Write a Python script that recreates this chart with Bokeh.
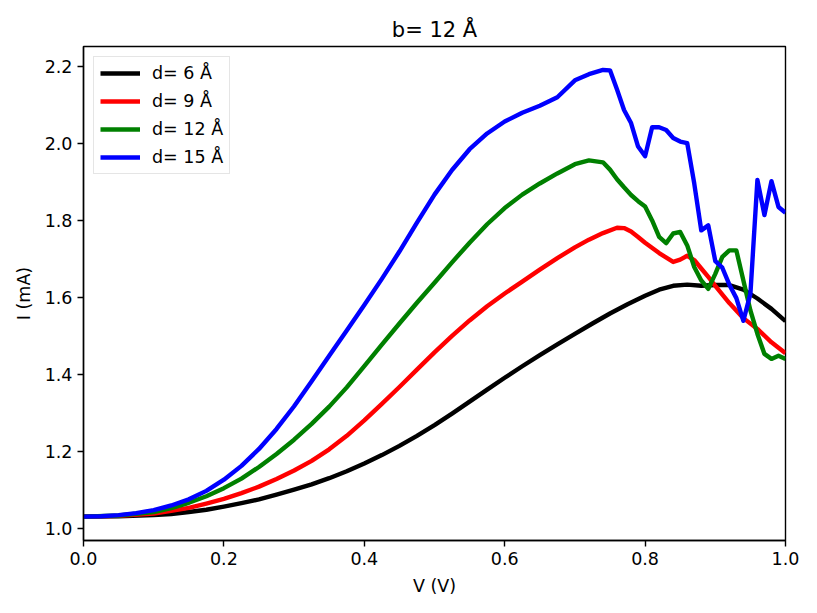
from bokeh.plotting import figure
from bokeh.models import Range1d, FixedTicker, Legend, LegendItem
from bokeh.embed import file_html
from bokeh.resources import INLINE

title_text = "b= 12 Å"
x_label = "V (V)"
y_label = "I (mA)"
x_ticks = [0.0, 0.2, 0.4, 0.6, 0.8, 1.0]
y_ticks = [1.0, 1.2, 1.4, 1.6, 1.8, 2.0, 2.2]

labels = ["d= 6 Å", "d= 9 Å", "d= 12 Å", "d= 15 Å"]
colors = ["black", "red", "green", "blue"]

v_d6 = [0.0, 0.05, 0.10, 0.125, 0.15, 0.175, 0.20, 0.225, 0.25, 0.275, 0.30, 0.325, 0.35,
        0.375, 0.40, 0.425, 0.45, 0.475, 0.50, 0.525, 0.55, 0.575, 0.60, 0.625, 0.65, 0.675,
        0.70, 0.725, 0.75, 0.775, 0.80, 0.82, 0.84, 0.86, 0.88, 0.90, 0.92, 0.94, 0.96,
        0.98, 1.0]
i_d6 = [1.030, 1.031, 1.034, 1.037, 1.042, 1.048, 1.056, 1.065, 1.075, 1.087, 1.100, 1.114,
        1.130, 1.148, 1.168, 1.190, 1.214, 1.240, 1.268, 1.298, 1.329, 1.360, 1.391, 1.421,
        1.450, 1.478, 1.505, 1.532, 1.558, 1.582, 1.604, 1.620, 1.630, 1.633, 1.630, 1.632,
        1.632, 1.620, 1.597, 1.570, 1.538]

v_d9 = [0.0, 0.05, 0.10, 0.125, 0.15, 0.175, 0.20, 0.225, 0.25, 0.275, 0.30, 0.325, 0.35,
        0.375, 0.40, 0.425, 0.45, 0.475, 0.50, 0.525, 0.55, 0.575, 0.60, 0.625, 0.65, 0.675,
        0.70, 0.72, 0.74, 0.76, 0.77, 0.78, 0.79, 0.80, 0.82, 0.84, 0.85, 0.86, 0.87, 0.88,
        0.89, 0.90, 0.92, 0.94, 0.96, 0.98, 1.0]
i_d9 = [1.030, 1.032, 1.038, 1.045, 1.053, 1.064, 1.076, 1.091, 1.108, 1.128, 1.150, 1.175,
        1.205, 1.240, 1.280, 1.323, 1.367, 1.412, 1.457, 1.500, 1.540, 1.577, 1.610, 1.641,
        1.672, 1.702, 1.730, 1.750, 1.767, 1.781, 1.780, 1.771, 1.757, 1.742, 1.715, 1.692,
        1.698, 1.708, 1.697, 1.675, 1.653, 1.630, 1.585, 1.546, 1.518, 1.483, 1.455]

v_d12 = [0.0, 0.05, 0.10, 0.125, 0.15, 0.175, 0.20, 0.225, 0.25, 0.275, 0.30, 0.325, 0.35,
         0.375, 0.40, 0.425, 0.45, 0.475, 0.50, 0.525, 0.55, 0.575, 0.60, 0.625, 0.65, 0.675,
         0.70, 0.72, 0.74, 0.75, 0.76, 0.77, 0.78, 0.79, 0.80, 0.81, 0.82, 0.83, 0.84, 0.85,
         0.86, 0.87, 0.88, 0.89, 0.90, 0.91, 0.92, 0.93, 0.94, 0.95, 0.96, 0.97, 0.98, 0.99, 1.0]
i_d12 = [1.030, 1.033, 1.042, 1.052, 1.066, 1.083, 1.104, 1.129, 1.159, 1.193, 1.230, 1.271,
         1.316, 1.366, 1.421, 1.477, 1.532, 1.586, 1.638, 1.691, 1.742, 1.790, 1.832, 1.867,
         1.896, 1.922, 1.946, 1.956, 1.951, 1.932, 1.907, 1.886, 1.866, 1.850, 1.836, 1.800,
         1.757, 1.741, 1.766, 1.770, 1.735, 1.679, 1.644, 1.622, 1.661, 1.705, 1.722, 1.722,
         1.644, 1.566, 1.505, 1.453, 1.440, 1.448, 1.440]

v_d15 = [0.0, 0.025, 0.05, 0.075, 0.10, 0.125, 0.15, 0.175, 0.20, 0.225, 0.25, 0.275, 0.30,
         0.325, 0.35, 0.375, 0.40, 0.425, 0.45, 0.475, 0.50, 0.525, 0.55, 0.575, 0.60, 0.625,
         0.65, 0.675, 0.70, 0.72, 0.74, 0.75, 0.76, 0.77, 0.78, 0.79, 0.80, 0.81, 0.82, 0.83,
         0.84, 0.85, 0.86, 0.87, 0.88, 0.89, 0.90, 0.91, 0.92, 0.93, 0.94, 0.95, 0.96, 0.97,
         0.98, 0.99, 1.0]
i_d15 = [1.030, 1.031, 1.034, 1.039, 1.047, 1.059, 1.075, 1.097, 1.126, 1.162, 1.206, 1.258,
         1.317, 1.382, 1.448, 1.514, 1.580, 1.648, 1.719, 1.794, 1.867, 1.931, 1.985, 2.026,
         2.057, 2.080, 2.098, 2.120, 2.164, 2.180, 2.191, 2.190, 2.140, 2.087, 2.053, 1.992,
         1.967, 2.042, 2.042, 2.035, 2.014, 2.005, 2.001, 1.896, 1.774, 1.787, 1.694, 1.677,
         1.633, 1.598, 1.539, 1.609, 1.905, 1.814, 1.902, 1.835, 1.820]

series = [(v_d6, i_d6), (v_d9, i_d9), (v_d12, i_d12), (v_d15, i_d15)]

FONT = "DejaVu Sans"

p = figure(width=810, height=605, output_backend="svg", toolbar_location=None,
           x_range=Range1d(0.0, 1.0), y_range=Range1d(0.968, 2.252),
           min_border_left=83, min_border_right=25, min_border_top=46, min_border_bottom=65)

p.title.text = title_text
p.title.align = "center"
p.title.text_font = FONT
p.title.text_font_size = "21px"
p.title.text_font_style = "normal"
p.title.text_color = "black"

p.xgrid.visible = False
p.ygrid.visible = False
p.outline_line_color = "black"
p.outline_line_width = 1.4

for ax in (p.xaxis[0], p.yaxis[0]):
    ax.axis_line_color = "black"
    ax.axis_line_width = 1.4
    ax.major_tick_line_color = "black"
    ax.major_tick_line_width = 1.4
    ax.major_tick_out = 6
    ax.major_tick_in = 0
    ax.minor_tick_line_color = None
    ax.major_label_text_font = FONT
    ax.major_label_text_font_size = "17.5px"
    ax.major_label_text_color = "black"
    ax.axis_label_text_font = FONT
    ax.axis_label_text_font_size = "17.5px"
    ax.axis_label_text_font_style = "normal"
    ax.axis_label_text_color = "black"
    ax.major_label_standoff = 5
    ax.axis_label_standoff = 8

p.xaxis[0].ticker = FixedTicker(ticks=x_ticks)
p.yaxis[0].ticker = FixedTicker(ticks=y_ticks)
p.xaxis[0].major_label_overrides = {t: f"{t:.1f}" for t in x_ticks}
p.yaxis[0].major_label_overrides = {t: f"{t:.1f}" for t in y_ticks}
p.xaxis[0].axis_label = x_label
p.yaxis[0].axis_label = y_label

items = []
for (v, i), c, lab in zip(series, colors, labels):
    r = p.line(v, i, line_color=c, line_width=4.4, line_join="round")
    items.append(LegendItem(label=lab, renderers=[r]))

legend = Legend(items=items, location="top_left", margin=10, padding=6, spacing=8,
                glyph_width=40, glyph_height=20, label_height=20, label_standoff=12,
                label_text_font=FONT, label_text_font_size="17.5px", label_text_color="black",
                border_line_color="#cccccc", border_line_width=1.4,
                background_fill_color="white", background_fill_alpha=0.8)
p.add_layout(legend)

open("out.html", "w").write(file_html(p, INLINE))
